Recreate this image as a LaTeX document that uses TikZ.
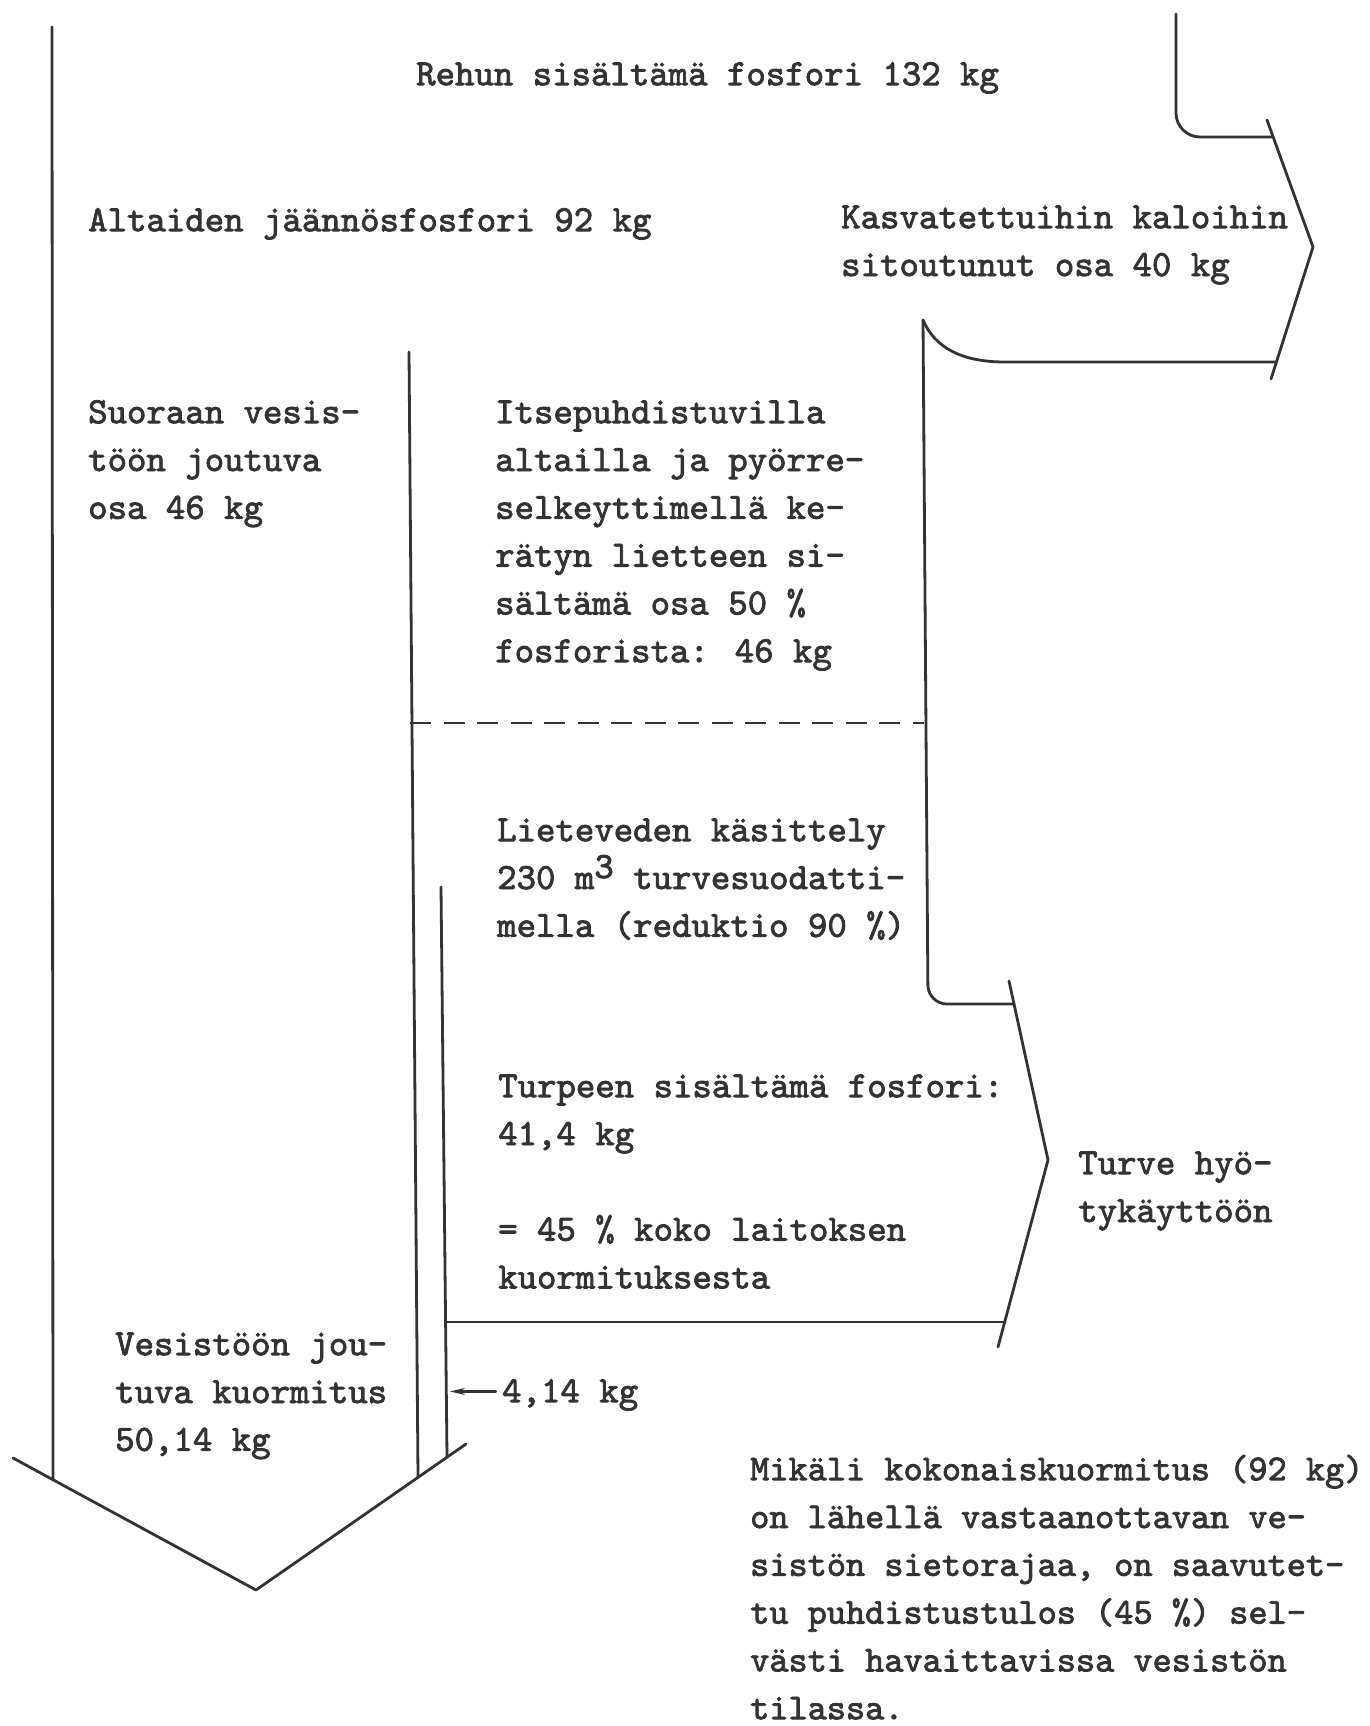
\documentclass[tikz,border=0pt]{standalone}
\usepackage{fontspec}
\usetikzlibrary{arrows.meta}
\newfontfamily\tw{lmmono10-regular.otf}[BoldFont=lmmono10-regular.otf, BoldFeatures={FakeBold=2.2}]
\definecolor{ink}{HTML}{333333}
\newcommand\fs{\rule{0pt}{30pt}}
\tikzset{
  flow/.style={draw=ink, line width=2.8pt, line join=round, line cap=round},
  txt/.style={anchor=north west, inner sep=0pt, align=left, text=ink,
    font=\tw\bfseries\fontsize{37}{47.8}\selectfont},
}
\begin{document}
\begin{tikzpicture}[x=1pt,y=-1pt]
\fill[white] (0,0) rectangle (1370,1726);
\useasboundingbox (0,0) rectangle (1370,1726);

% texts
\node[txt] (rehun) at (416,55) {\fs Rehun sisältämä fosfori 132 kg};
\node[txt] (alt) at (88,201) {\fs Altaiden jäännösfosfori 92 kg};
\node[txt] (kasv) at (841,198) {\fs Kasvatettuihin kaloihin\\sitoutunut osa 40 kg};
\node[txt] (suor) at (88,393) {\fs Suoraan vesis-\\töön joutuva\\osa 46 kg};
\node[txt] (itse) at (495,393) {\fs Itsepuhdistuvilla\\altailla ja pyörre-\\selkeyttimellä ke-\\rätyn lietteen si-\\sältämä osa 50 \%\\fosforista: 46 kg};
\node[txt] (liete) at (497,811) {\fs Lieteveden käsittely\\230 m\raisebox{11pt}{3} turvesuodatti-\\mella (reduktio 90 \%)};
\node[txt] (turp) at (498,1067) {\fs Turpeen sisältämä fosfori:\\41,4 kg\\[47.8pt]= 45 \% koko laitoksen\\kuormituksesta};
\node[txt] (turve) at (1078,1144) {\fs Turve hyö-\\tykäyttöön};
\node[txt] (vesi) at (115,1325) {\fs Vesistöön jou-\\tuva kuormitus\\50,14 kg};
\node[txt] (kg414) at (502,1372) {\fs 4,14 kg};
\node[txt, font=\tw\bfseries\fontsize{36.5}{47.8}\selectfont] (mik) at (750,1450) {\fs Mikäli kokonaiskuormitus (92 kg)\\on lähellä vastaanottavan ve-\\sistön sietorajaa, on saavutet-\\tu puhdistustulos (45 \%) sel-\\västi havaittavissa vesistön\\tilassa.};

% main left stream and outlet arrow
\draw[flow] (52,27) -- (53,1480);
\draw[flow] (13,1458) -- (256,1590) -- (466,1444);
\draw[flow] (409,352) -- (418,1477);
\draw[flow] (441,887) -- (447,1457);

% dashed division
\draw[flow, line width=2.4pt, line cap=butt, dash pattern=on 21pt off 12.5pt] (410,723) -- (924,723);

% fish branch (top right)
\draw[flow, rounded corners=24pt] (1176,14) -- (1176,137) -- (1272,137);
\draw[flow] (1267,120) -- (1313,247) -- (1271,379);
\draw[flow] (1277,362) -- (1005,362) .. controls (962,362) and (935,348) .. (923,320);

% peat branch (middle right)
\draw[flow, rounded corners=19pt] (923,320) -- (928,1004) -- (1014,1004);
\draw[flow] (1009,981) -- (1048,1160) -- (998,1347);
\draw[flow] (446,1322) -- (1005,1322);

% 4,14 kg arrow
\coordinate (l2hit) at (450,1393);
\draw[flow, line width=2.2pt, -{Stealth[length=15pt,width=7pt]}] ([xshift=-6pt]kg414.west) -- (kg414.west -| l2hit);
\end{tikzpicture}
\end{document}
